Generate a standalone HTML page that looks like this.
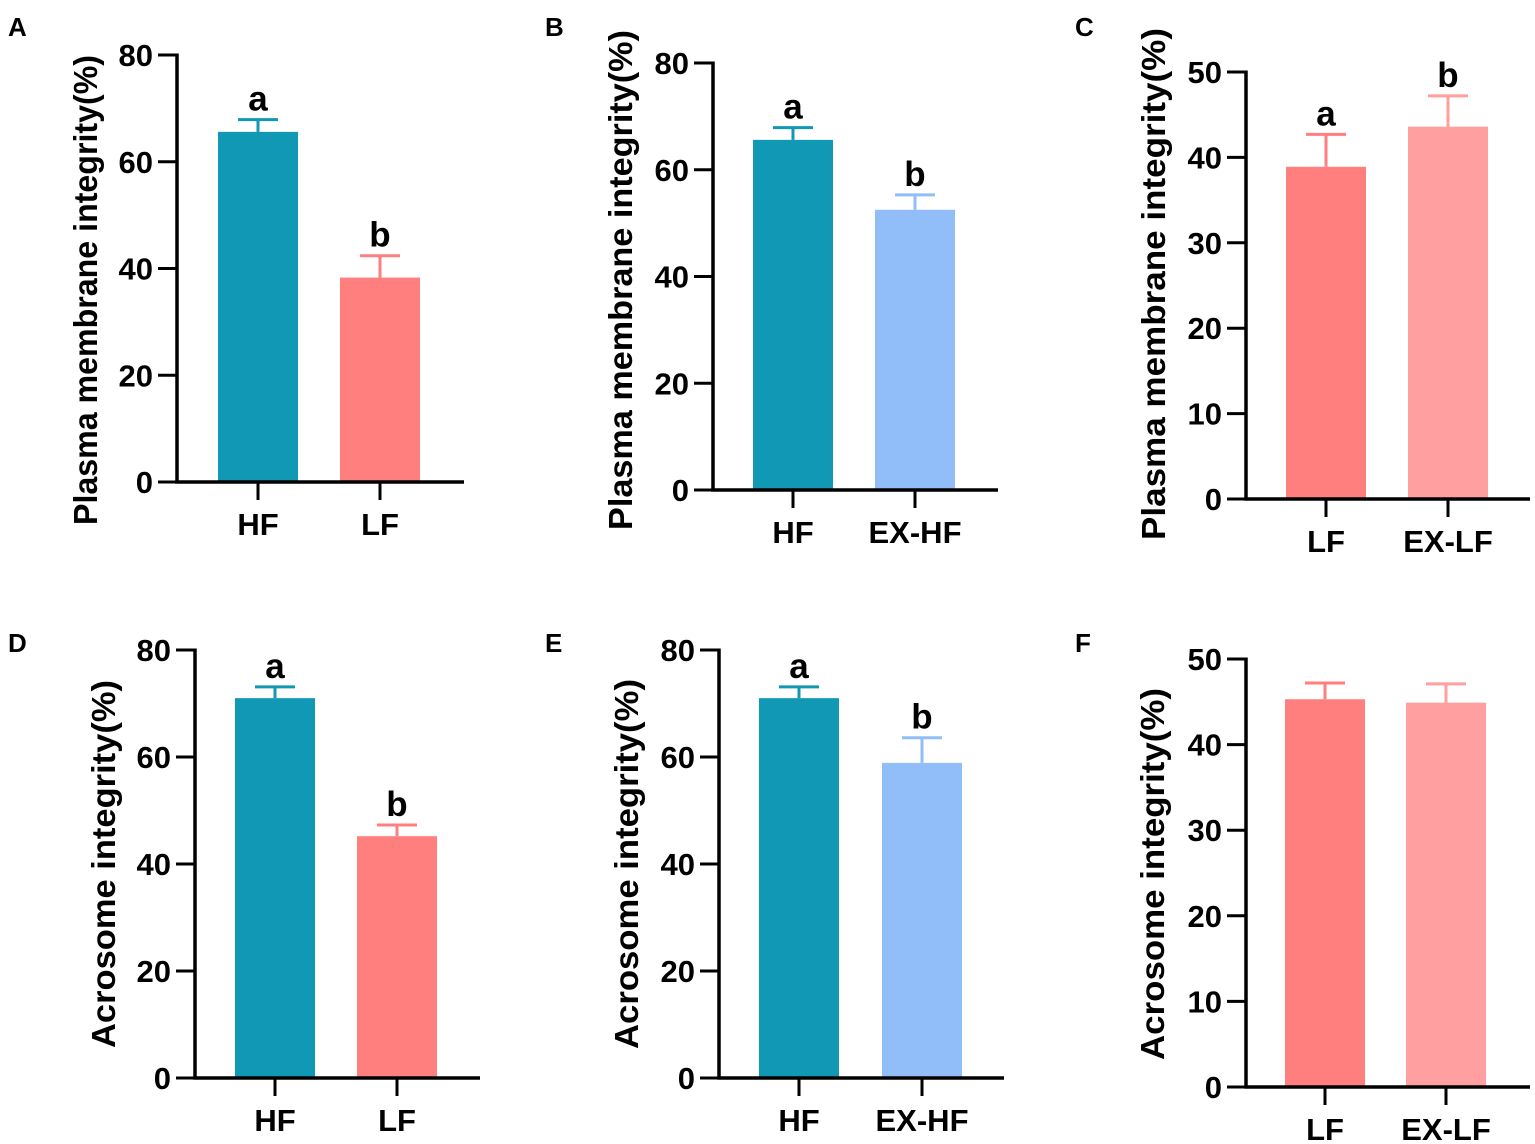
<!DOCTYPE html>
<html><head><meta charset="utf-8">
<style>
body{margin:0;background:#fff;}
svg{display:block;font-family:"Liberation Sans",Arial,sans-serif;font-weight:bold;}
</style></head>
<body>
<svg id="fig" width="1535" height="1144" viewBox="0 0 1535 1144"></svg>
<script>
const panelLetters=["A","B","C","D","E","F"];
const yTitles=["Plasma membrane integrity(%)","Plasma membrane integrity(%)","Plasma membrane integrity(%)","Acrosome integrity(%)","Acrosome integrity(%)","Acrosome integrity(%)"];
const categories=[["HF","LF"],["HF","EX-HF"],["LF","EX-LF"],["HF","LF"],["HF","EX-HF"],["LF","EX-LF"]];
const meanValues=[[65.6,38.3],[65.6,52.5],[38.9,43.6],[71,45.2],[71,58.9],[45.3,44.9]];
const errValues=[[2.3,4.1],[2.3,2.8],[3.8,3.6],[2.1,2.1],[2.1,4.7],[1.9,2.2]];
const sigLetters=[["a","b"],["a","b"],["a","b"],["a","b"],["a","b"],["",""]];
const yMaxes=[80,80,50,80,80,50];
const yTickVals=[[0,20,40,60,80],[0,20,40,60,80],[0,10,20,30,40,50],[0,20,40,60,80],[0,20,40,60,80],[0,10,20,30,40,50]];

const layout=[
 {ax:177,top:55,bot:482,xend:464,b1:218,b2:340,lx:8,ly:36,tx:97,tl:470,tc:290},
 {ax:713,top:63,bot:490,xend:998,b1:753,b2:875,lx:545,ly:36,tx:632,tl:500,tc:280},
 {ax:1246,top:72,bot:499,xend:1530,b1:1286,b2:1408,lx:1075,ly:36,tx:1165,tl:512,tc:284},
 {ax:195,top:650,bot:1078,xend:480,b1:235,b2:357,lx:8,ly:652,tx:115,tl:368,tc:864},
 {ax:719,top:650,bot:1078,xend:1004,b1:759,b2:882,lx:545,ly:652,tx:638,tl:370,tc:864},
 {ax:1246,top:659,bot:1087,xend:1530,b1:1285,b2:1406,lx:1075,ly:652,tx:1164,tl:372,tc:874}
];
const colorSets=[["#1198b4","#ff7f7f"],["#1198b4","#91bef8"],["#ff7f7f","#ff9f9f"],["#1198b4","#ff7f7f"],["#1198b4","#91bef8"],["#ff7f7f","#ff9f9f"]];
const NS="http://www.w3.org/2000/svg";
const svg=document.getElementById("fig");
function mk(tag,attrs,parent){const e=document.createElementNS(NS,tag);for(const k in attrs)e.setAttribute(k,attrs[k]);(parent||svg).appendChild(e);return e;}
const BW=80;
layout.forEach((L,p)=>{
  const g=mk("g",{});
  
  
  const y=v=>L.bot-(v/yMaxes[p])*(L.bot-L.top);
  const t=mk("text",{x:L.lx,y:L.ly,"font-size":26},g);t.textContent=panelLetters[p];
  
  
  for(let i=0;i<2;i++){
    const bx=i?L.b2:L.b1, v=meanValues[p][i], e=errValues[p][i], c=colorSets[p][i];
    const r=mk("rect",{x:bx,y:y(v),width:BW,height:L.bot-y(v),fill:c},g);
    
    
    const cx=bx+BW/2;
    const el=mk("path",{d:`M${cx} ${y(v)}V${y(v+e)}M${cx-20} ${y(v+e)}H${cx+20}`,stroke:c,"stroke-width":3,fill:"none"},g);
    
    
    if(sigLetters[p][i]){
      const s=mk("text",{x:cx,y:y(v+e)-9,"font-size":35,"text-anchor":"middle"},g);s.textContent=sigLetters[p][i];
      
      
    }
    mk("line",{x1:cx,x2:cx,y1:L.bot,y2:L.bot+18,stroke:"#000","stroke-width":3},g);
    const xl=mk("text",{x:cx,y:L.bot+53,"font-size":31,"text-anchor":"middle"},g);xl.textContent=categories[p][i];
    
    
  }
  const ya=mk("path",{d:`M${L.ax} ${L.top-1.5}V${L.bot}H${L.xend}`,stroke:"#000","stroke-width":3.5,fill:"none"},g);
  
  
  yTickVals[p].forEach(v=>{
    mk("line",{x1:L.ax-19,x2:L.ax,y1:y(v),y2:y(v),stroke:"#000","stroke-width":3},g);
    const tl=mk("text",{x:L.ax-24,y:y(v)+11,"font-size":31,"text-anchor":"end"},g);tl.textContent=v;
    
    
  });
  const cy=L.tc;
  const yt=mk("text",{x:L.tx,y:cy,"font-size":33,"text-anchor":"middle",textLength:L.tl,lengthAdjust:"spacingAndGlyphs",transform:`rotate(-90 ${L.tx} ${cy})`},g);
  yt.textContent=yTitles[p];
  
  
});
</script>
</body></html>
